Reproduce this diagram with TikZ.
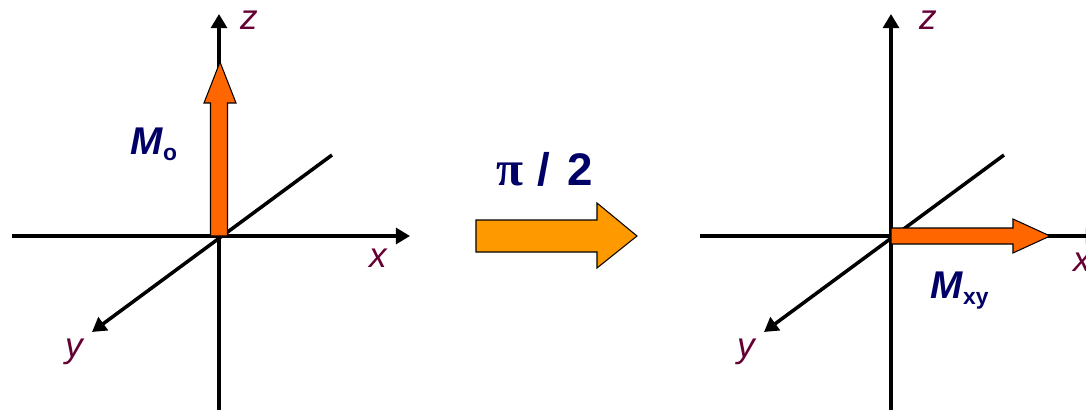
\documentclass[tikz,border=0pt]{standalone}
\usepackage{fontspec}
\setmainfont{Liberation Sans}
\newfontfamily\greekfont{Liberation Serif}
\usepackage{tikz}
\usetikzlibrary{arrows.meta,calc}
\definecolor{ink}{HTML}{000000}
\definecolor{navy}{HTML}{000066}
\definecolor{plum}{HTML}{660033}
\definecolor{magorange}{HTML}{FF6600}
\definecolor{pulseamber}{HTML}{FF9900}
\tikzset{
  axis/.style={line width=2pt,color=ink},
  axisarrow/.style={axis,-{Triangle[length=8pt,width=9pt]}},
  axislabel/.style={font=\fontsize{20}{20}\selectfont\itshape,text=plum,inner sep=0pt},
  maglabel/.style={font=\fontsize{22}{22}\selectfont\bfseries,text=navy,inner sep=0pt,anchor=base west},
  magarrow/.style={draw=ink,line width=.6pt,fill=magorange,line join=miter},
  pulsearrow/.style={draw=ink,line width=.6pt,fill=pulseamber,line join=miter},
}
\newcommand{\magsub}[1]{\textit{M}\raisebox{-.3ex}{\fontsize{13}{13}\selectfont #1}}

\begin{document}
\begin{tikzpicture}[x=0.02cm,y=-0.02cm]
  \useasboundingbox (0,0) rectangle (1086,412);
  \clip (0,0) rectangle (1086,412);

  % left frame, before the pulse
  \coordinate (o1) at (219,236);
  \coordinate (x1a) at (12,236);
  \coordinate (x1b) at (410,236);
  \coordinate (z1a) at (219,410);
  \coordinate (z1b) at (219,14);
  \coordinate (y1a) at (332,155);
  \coordinate (y1b) at (92,332);
  \draw[axisarrow] (x1a) -- (x1b);
  \draw[axisarrow] (z1a) -- (z1b);
  \draw[axisarrow] (y1a) -- (y1b);
  \node[axislabel] (z1) at (249,20) {z};
  \node[axislabel] (x1) at (378,258) {x};
  \node[axislabel] (y1) at (74,352) {y};

  \draw[magarrow] ($(o1)+(-8.5,0)$) -- ($(o1)+(8.5,0)$) -- (227.5,103) -- (236,103)
    -- (220,62) -- (204,103) -- (210.5,103) -- cycle;
  \node[maglabel] (mo) at (130,154) {\magsub{o}};

  % the pulse
  \node[maglabel,font=\fontsize{26}{26}\selectfont\bfseries] (pulse) at (496,186)
    {{\greekfont\fontsize{28}{28}\selectfont π}\hspace{0.3em}/\hspace{0.4em}2};
  \draw[pulsearrow] (476,220) -- (597,220) -- (597,203) -- (637,236) -- (597,268)
    -- (597,252) -- (476,252) -- cycle;

  % right frame, after the pulse
  \coordinate (o2) at (891,236);
  \coordinate (x2a) at (700,236);
  \coordinate (x2b) at (1100,236);
  \coordinate (z2a) at (891,410);
  \coordinate (z2b) at (891,14);
  \coordinate (y2a) at (1004,155);
  \coordinate (y2b) at (764,332);
  \draw[axisarrow] (x2a) -- (x2b);
  \draw[axisarrow] (z2a) -- (z2b);
  \draw[axisarrow] (y2a) -- (y2b);
  \node[axislabel] (z2) at (928,20) {z};
  \node[axislabel] (x2) at (1082,262) {x};
  \node[axislabel] (y2) at (746,352) {y};

  \draw[magarrow] ($(o2)+(0,-8)$) -- (1013,228) -- (1013,219) -- (1050,236)
    -- (1013,253) -- (1013,244) -- ($(o2)+(0,8)$) -- cycle;
  \node[maglabel] (mxy) at (930,298) {\magsub{xy}};
\end{tikzpicture}
\end{document}
